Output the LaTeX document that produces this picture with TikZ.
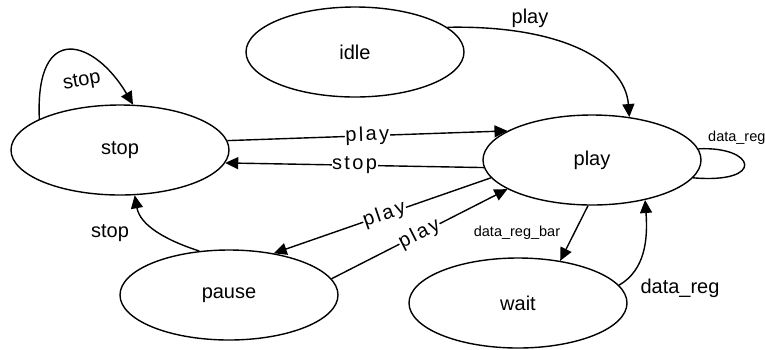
\documentclass[tikz,border=0pt]{standalone}
\usepackage{fontspec}
\setmainfont{Liberation Sans}
\newfontfamily\spacedfont[LetterSpace=12]{Liberation Sans}
\usetikzlibrary{shapes.geometric,arrows.meta}

\begin{document}
\begin{tikzpicture}[x=1pt,y=-1pt,
  state/.style={draw, ellipse, line width=1.4pt, minimum width=218pt, minimum height=90pt,
    inner sep=0pt, font=\fontsize{20}{24}\selectfont},
  tr/.style={draw, line width=1.4pt, -{Triangle[length=13pt,width=12pt]}},
  loopline/.style={draw, line width=1.4pt},
  lbl/.style={font=\fontsize{20}{24}\selectfont, inner sep=1pt},
  onlbl/.style={font=\spacedfont\fontsize{20}{24}\selectfont, fill=white, inner sep=0.5pt},
  small/.style={font=\fontsize{14.5}{17}\selectfont, inner sep=0pt}]
\useasboundingbox (0,0) rectangle (765,349);

% states
\node[state] (stopS)  at (120,150) {stop};
\node[state] (idleS)  at (355,52)  {idle};
\node[state] (playS)  at (592,160) {play};
\node[state] (pauseS) at (229,295) {pause};
\node[state] (waitS)  at (518,303) {wait};

% stop self loop
\draw[tr] (stopS.159) .. controls (35,20) and (95,40) .. (stopS.74);
\node[lbl, rotate=10] (lStopLoop) at (82,82) {stop};

% idle -> play
\draw[tr] (idleS.15) .. controls (560,25) and (625,60) .. (playS.49);
\node[lbl] (lIdlePlay) at (530,18) {play};

% stop <-> play
\draw[tr] (stopS.5) -- node[onlbl, rotate=2] (lStopPlay) {play} (playS.161);
\draw[tr] (playS.184) -- node[onlbl] (lPlayStop) {stop} (stopS.-7);

% play <-> pause
\draw[tr] (playS.190) -- node[onlbl, rotate=19, pos=0.49] (lPlayPause) {play} (pauseS.43);
\draw[tr] (pauseS.9) -- node[onlbl, rotate=27, pos=0.5] (lPausePlay) {play} (playS.199);

% pause -> stop
\draw[tr] (pauseS.124) .. controls (165,240) and (140,225) .. (stopS.-72);
\node[lbl] (lPauseStop) at (110,233) {stop};

% play <-> wait
\draw[tr] (playS.265) -- (waitS.45);
\node[small] (lBar) at (517,233) {data\_reg\_bar};
\draw[tr] (waitS.10) .. controls (645,270) and (648,240) .. (playS.323);
\node[lbl] (lWaitPlay) at (680,288) {data\_reg};

% play self loop
\draw[loopline] (playS.6) .. controls (756,146) and (766,184) .. (playS.-10);
\node[small, anchor=west] (lPlayLoop) at (708,138) {data\_reg};
\end{tikzpicture}
\end{document}
